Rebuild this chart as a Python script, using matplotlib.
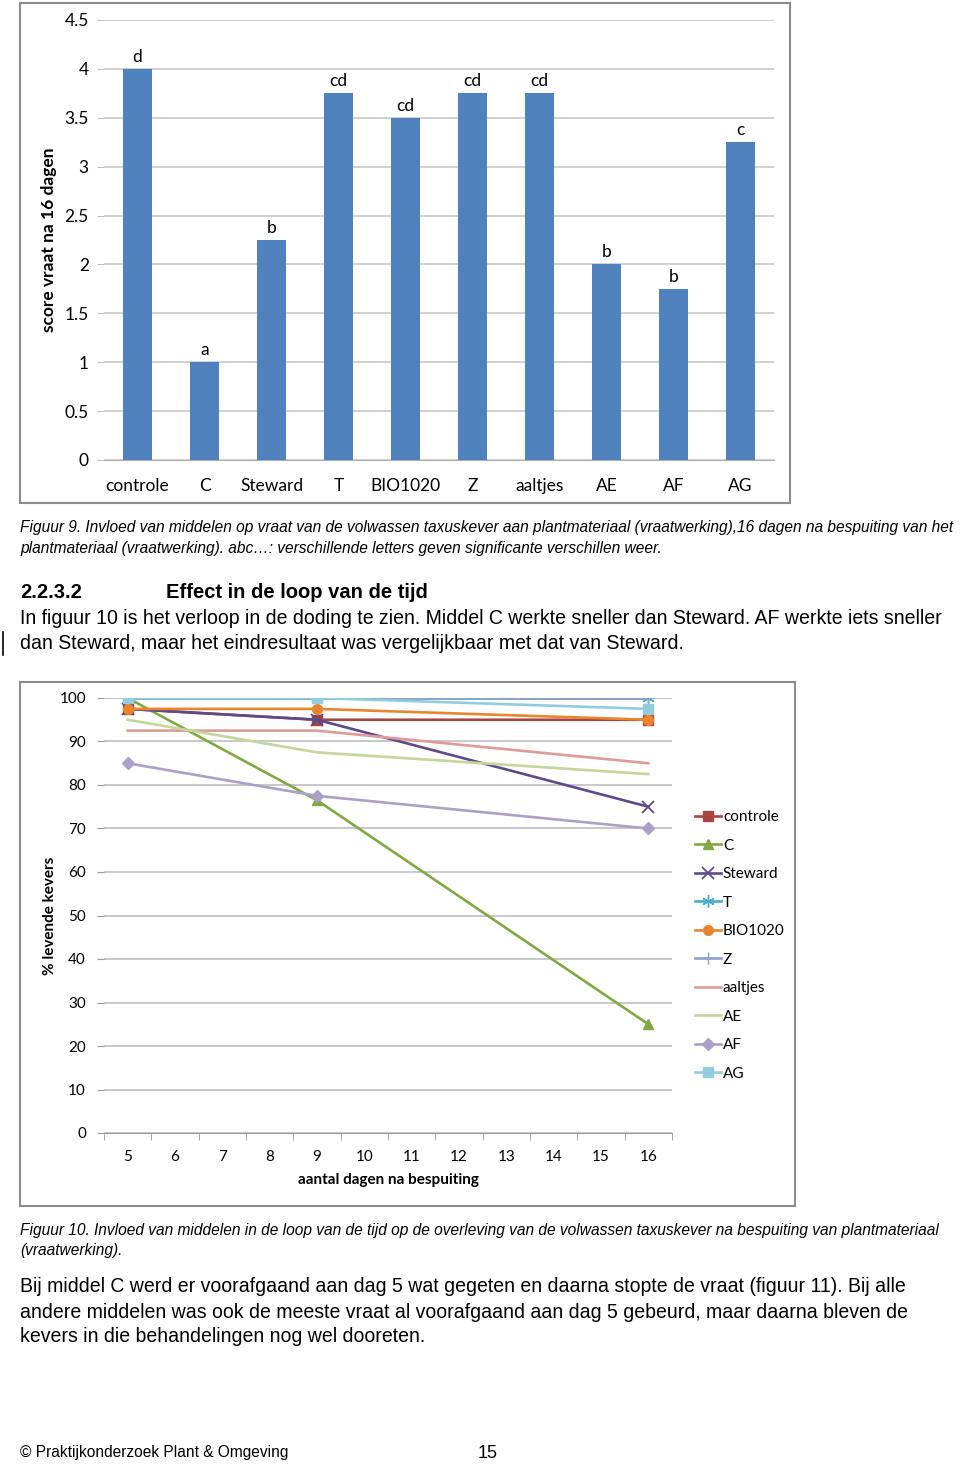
import matplotlib.pyplot as plt
from matplotlib.patches import Rectangle
from matplotlib.lines import Line2D

# bar chart data (figuur 9)
bar_names = ["controle", "C", "Steward", "T", "BIO1020", "Z", "aaltjes", "AE", "AF", "AG"]
bar_scores = [4.0, 1.0, 2.25, 3.75, 3.5, 3.75, 3.75, 2.0, 1.75, 3.25]
bar_letters = ["d", "a", "b", "cd", "cd", "cd", "cd", "b", "b", "c"]
bar_ticks = [0, 0.5, 1, 1.5, 2, 2.5, 3, 3.5, 4, 4.5]

# line chart data (figuur 10)
days = [5, 9, 16]
day_ticks = list(range(5, 17))
survival = {
    "controle": [97.5, 95, 95],
    "C": [100, 76.5, 25],
    "Steward": [97.5, 95, 75],
    "T": [100, 100, 100],
    "BIO1020": [97.5, 97.5, 95],
    "Z": [100, 100, 100],
    "aaltjes": [92.5, 92.5, 85],
    "AE": [95, 87.5, 82.5],
    "AF": [85, 77.5, 70],
    "AG": [100, 100, 97.5],
}
line_ticks = list(range(0, 101, 10))

styles = {
    "controle": dict(color="#A84442", marker="s", ms=7),
    "C": dict(color="#82A843", marker="^", ms=7),
    "Steward": dict(color="#5E4A8A", marker="x", ms=8, mew=1.3),
    "T": dict(color="#4BACC6", marker=(6, 2, 0), ms=9, mew=1.0),
    "BIO1020": dict(color="#E9842F", marker="o", ms=7),
    "Z": dict(color="#8FA2C8", marker="+", ms=9, mew=1.0),
    "aaltjes": dict(color="#DF9A98", marker="None"),
    "AE": dict(color="#C3D69B", marker="None"),
    "AF": dict(color="#ACA0C8", marker="D", ms=6),
    "AG": dict(color="#93CDDD", marker="s", ms=7),
}

W, H = 960, 1464
chart_font = ["Lato", "DejaVu Sans"]
doc_font = ["Liberation Sans Narrow", "Liberation Sans", "DejaVu Sans"]


def px_box(x0, y0, x1, y1):
    return [x0 / W, 1 - y1 / H, (x1 - x0) / W, (y1 - y0) / H]


def fx(x):
    return x / W


def fy(y):
    return 1 - y / H


fig = plt.figure(figsize=(W / 100, H / 100), dpi=100)

# frames around the two charts
for x0, y0, x1, y1 in [(20, 3, 790, 503), (20, 682, 795, 1206)]:
    fig.patches.append(Rectangle((fx(x0), fy(y1)), (x1 - x0) / W, (y1 - y0) / H,
                                 transform=fig.transFigure, fill=False,
                                 edgecolor="#8c8c8c", linewidth=1.5))

# ---- bar chart ----
ax1 = fig.add_axes(px_box(104, 20, 774, 460))
pos = list(range(len(bar_names)))
ax1.bar(pos, bar_scores, width=0.42, color="#4F81BD", zorder=3)
for p, v, lab in zip(pos, bar_scores, bar_letters):
    ax1.annotate(lab, (p, v), xytext=(0, 3), textcoords="offset points",
                 ha="center", va="bottom", fontsize=12.5, family=chart_font)
ax1.set_xlim(-0.5, len(bar_names) - 0.5)
ax1.set_ylim(0, 4.5)
ax1.set_yticks(bar_ticks)
ax1.set_yticklabels([f"{t:g}" for t in bar_ticks], family=chart_font, fontsize=12.5)
ax1.set_xticks(pos)
ax1.set_xticklabels(bar_names, family=chart_font, fontsize=12.5)
ax1.tick_params(axis="x", length=0, pad=13)
ax1.tick_params(axis="y", length=5, color="#bfbfbf", pad=6)
ax1.grid(axis="y", color="#c8c8c8", linewidth=1.2, zorder=0)
for s in ["top", "right", "left"]:
    ax1.spines[s].set_visible(False)
ax1.spines["bottom"].set_color("#b0b0b0")
ax1.set_ylabel("score vraat na 16 dagen", family=chart_font, fontsize=12.5,
               fontweight="bold", labelpad=5)

# ---- line chart ----
ax2 = fig.add_axes(px_box(104, 698, 672, 1133))
for name, vals in survival.items():
    st = dict(styles[name])
    ax2.plot(days, vals, color=st.pop("color"), lw=1.9, label=name,
             zorder=3, **st)
ax2.set_xlim(4.5, 16.5)
ax2.set_ylim(0, 100)
ax2.set_yticks(line_ticks)
ax2.set_yticklabels([str(t) for t in line_ticks], family=chart_font, fontsize=11)
ax2.set_xticks(day_ticks)
ax2.set_xticklabels([str(d) for d in day_ticks], family=chart_font, fontsize=11)
ax2.set_xticks([d + 0.5 for d in range(4, 17)], minor=True)
ax2.tick_params(axis="x", which="major", length=0, pad=12)
ax2.tick_params(axis="x", which="minor", length=5, color="#9a9a9a")
ax2.tick_params(axis="y", length=5, color="#9a9a9a", pad=8)
ax2.grid(axis="y", color="#bfbfbf", linewidth=1.2, zorder=0)
for s in ["top", "right", "left"]:
    ax2.spines[s].set_visible(False)
ax2.spines["bottom"].set_color("#9a9a9a")
ax2.set_xlabel("aantal dagen na bespuiting", family=chart_font, fontsize=11,
               fontweight="bold", labelpad=7)
ax2.set_ylabel("% levende kevers", family=chart_font, fontsize=11,
               fontweight="bold", labelpad=1.5)
leg = ax2.legend(loc="upper left", bbox_to_anchor=(fx(689), fy(804)),
                 bbox_transform=fig.transFigure, frameon=False,
                 prop={"family": chart_font, "size": 11}, handlelength=1.7,
                 handletextpad=0.12, labelspacing=0.95, borderaxespad=0)

# ---- document text ----
cap_size = 11.2
body_size = 14.05
cap9 = ("Figuur 9. Invloed van middelen op vraat van de volwassen taxuskever aan plantmateriaal "
        "(vraatwerking),16 dagen na bespuiting van het")
cap9b = "plantmateriaal (vraatwerking). abc…: verschillende letters geven significante verschillen weer."
fig.text(fx(20), fy(528), cap9, family=doc_font, style="italic", fontsize=cap_size, va="center")
fig.text(fx(20), fy(548), cap9b, family=doc_font, style="italic", fontsize=cap_size, va="center")

fig.text(fx(20), fy(592), "2.2.3.2", family=doc_font, fontweight="bold", fontsize=14.5, va="center")
fig.text(fx(166), fy(592), "Effect in de loop van de tijd", family=doc_font,
         fontweight="bold", fontsize=14.5, va="center")
body1 = ["In figuur 10 is het verloop in de doding te zien. Middel C werkte sneller dan Steward. "
         "AF werkte iets sneller",
         "dan Steward, maar het eindresultaat was vergelijkbaar met dat van Steward."]
for i, line in enumerate(body1):
    fig.text(fx(20), fy(619 + 25 * i), line, family=doc_font, fontsize=body_size, va="center")
fig.lines.append(Line2D([fx(3), fx(3)], [fy(632), fy(655)], transform=fig.transFigure,
                        color="black", lw=1.2))

cap10 = ("Figuur 10. Invloed van middelen in de loop van de tijd op de overleving van de volwassen "
         "taxuskever na bespuiting van plantmateriaal")
fig.text(fx(20), fy(1230), cap10, family=doc_font, style="italic", fontsize=cap_size, va="center")
fig.text(fx(20), fy(1250), "(vraatwerking).", family=doc_font, style="italic",
         fontsize=cap_size, va="center")

body2 = ["Bij middel C werd er voorafgaand aan dag 5 wat gegeten en daarna stopte de vraat "
         "(figuur 11). Bij alle",
         "andere middelen was ook de meeste vraat al voorafgaand aan dag 5 gebeurd, maar daarna "
         "bleven de",
         "kevers in die behandelingen nog wel dooreten."]
for i, line in enumerate(body2):
    fig.text(fx(20), fy(1287 + 25 * i), line, family=doc_font, fontsize=body_size, va="center")

fig.text(fx(20), fy(1453), "© Praktijkonderzoek Plant & Omgeving", family=doc_font,
         fontsize=11.2, va="center")
fig.text(fx(478), fy(1453), "15", family=doc_font, fontsize=13, va="center")

fig.savefig("out.png", dpi=100)
